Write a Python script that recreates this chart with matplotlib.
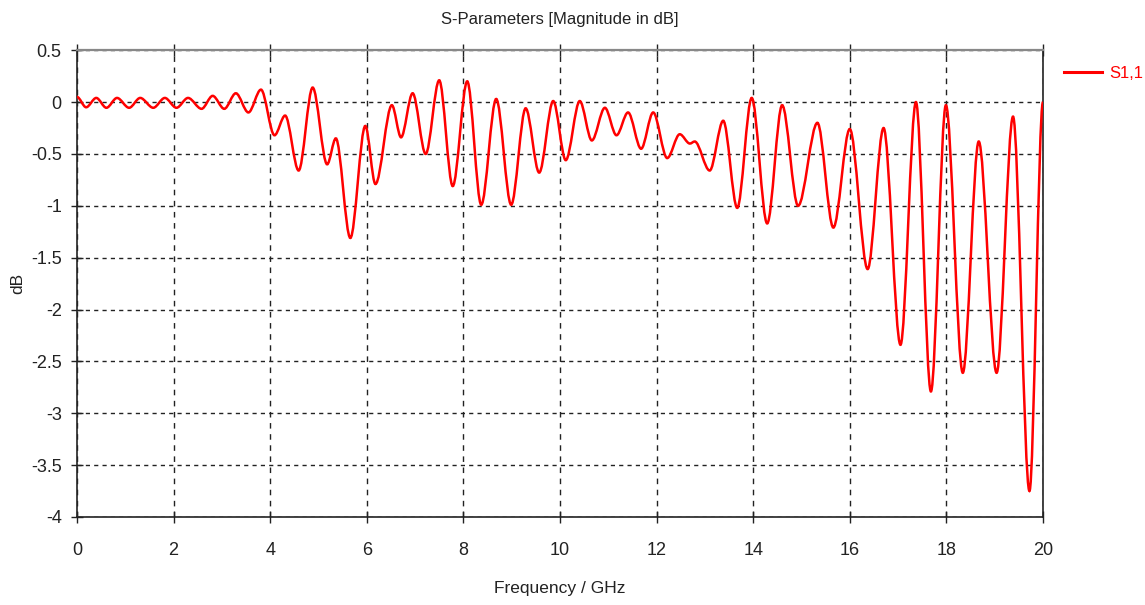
import matplotlib
matplotlib.use("Agg")
import matplotlib.pyplot as plt
from matplotlib.path import Path
from matplotlib.patches import PathPatch
from matplotlib.lines import Line2D

# S1,1 magnitude (GHz, dB), turning points of the trace
freq = [0.0, 0.19, 0.40, 0.61, 0.83, 1.08, 1.31, 1.58, 1.82, 2.06,
        2.30, 2.58, 2.81, 3.05, 3.29, 3.55, 3.81, 4.09, 4.31, 4.59,
        4.88, 5.18, 5.36, 5.66, 5.97, 6.18, 6.52, 6.71, 6.95, 7.22,
        7.50, 7.78, 8.08, 8.37, 8.68, 8.99, 9.29, 9.57, 9.86, 10.12,
        10.41, 10.66, 10.93, 11.17, 11.41, 11.68, 11.93, 12.22, 12.48, 12.69,
        12.79, 13.10, 13.38, 13.67, 13.97, 14.29, 14.60, 14.93, 15.33, 15.66,
        16.00, 16.37, 16.70, 17.05, 17.37, 17.68, 17.99, 18.34, 18.67, 19.04,
        19.38, 19.72, 20.00]
s11_db = [0.05, -0.05, 0.04, -0.055, 0.04, -0.055, 0.04, -0.055, 0.04, -0.055,
          0.04, -0.065, 0.06, -0.065, 0.085, -0.10, 0.12, -0.32, -0.13, -0.66,
          0.14, -0.60, -0.35, -1.31, -0.23, -0.79, -0.03, -0.34, 0.085, -0.50,
          0.21, -0.81, 0.20, -0.99, 0.03, -0.99, -0.06, -0.68, 0.01, -0.56,
          0.01, -0.37, -0.055, -0.32, -0.10, -0.45, -0.10, -0.54, -0.31, -0.40,
          -0.38, -0.66, -0.18, -1.02, 0.04, -1.17, -0.03, -1.00, -0.20, -1.21,
          -0.26, -1.61, -0.25, -2.34, 0.00, -2.79, -0.03, -2.61, -0.38, -2.61,
          -0.14, -3.75, 0.00]

x_ticks = [0, 2, 4, 6, 8, 10, 12, 14, 16, 18, 20]
y_ticks = [0.5, 0, -0.5, -1, -1.5, -2, -2.5, -3, -3.5, -4]

TRACE = '#ff0000'
INK = '#222222'

plt.rcParams['font.family'] = ['Liberation Sans', 'DejaVu Sans']
plt.rcParams['axes.unicode_minus'] = False

fig = plt.figure(figsize=(11.45, 6.05), dpi=100)
ax = fig.add_axes([0.0672, 0.1455, 0.8437, 0.7715])

# smooth trace: flat tangent at each turning point, bezier between them
verts = [(freq[0], s11_db[0])]
codes = [Path.MOVETO]
for i in range(1, len(freq)):
    x0, y0 = freq[i - 1], s11_db[i - 1]
    x1, y1 = freq[i], s11_db[i]
    dx = (x1 - x0) / 3.0
    verts += [(x0 + dx, y0), (x1 - dx, y1), (x1, y1)]
    codes += [Path.CURVE4] * 3
ax.add_patch(PathPatch(Path(verts, codes), fill=False, edgecolor=TRACE,
                       lw=1.8, zorder=3))

ax.set_xlim(0, 20)
ax.set_ylim(-4, 0.5)
ax.set_xticks(x_ticks)
ax.set_yticks(y_ticks)
ax.set_xticklabels([str(t) for t in x_ticks])
ax.set_yticklabels(['%g' % t for t in y_ticks])

ax.xaxis.grid(True, color=INK, lw=1.0, linestyle=(0, (4, 4)))
ax.yaxis.grid(True, color=INK, lw=1.0, linestyle=(0, (3, 3)))

ax.tick_params(axis='both', direction='inout', length=8, width=1.0,
               labelsize=13, colors=INK, pad=7)
ax.tick_params(axis='x', top=True, pad=14)
for side in ['left', 'right', 'bottom']:
    ax.spines[side].set_color(INK)
    ax.spines[side].set_linewidth(1.2)
ax.spines['top'].set_color('#888888')
ax.spines['top'].set_linewidth(1.6)

ax.set_title('S-Parameters [Magnitude in dB]', fontsize=12, color=INK, pad=19)
ax.set_xlabel('Frequency / GHz', fontsize=12.5, color=INK, labelpad=16)
ax.set_ylabel('dB', fontsize=12.5, color=INK)
ax.yaxis.label.set_va('center')
ax.yaxis.set_label_coords(-0.061, 0.5)

ax.legend(handles=[Line2D([], [], color=TRACE, lw=2.2, label='S1,1')],
          loc='upper left', bbox_to_anchor=(1.015, 0.98), frameon=False,
          handlelength=2.3, handletextpad=0.4, fontsize=12,
          labelcolor=TRACE, borderaxespad=0)

fig.savefig('out.png', dpi=100)
